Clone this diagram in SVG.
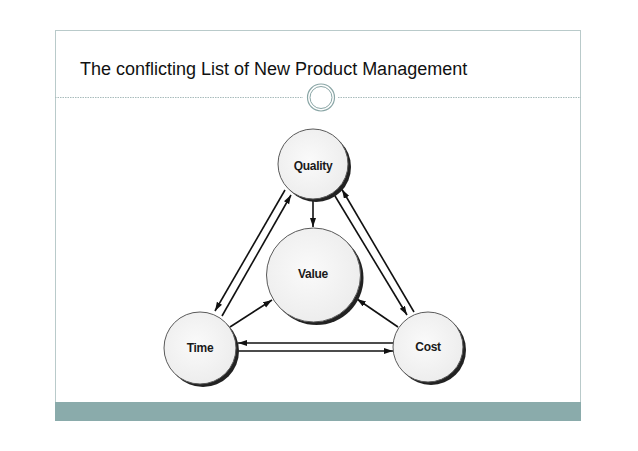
<svg xmlns="http://www.w3.org/2000/svg" width="638" height="451" viewBox="0 0 638 451">
<style>
.title{font-family:"Liberation Sans",Arial,sans-serif;font-size:18px;fill:#111}
.lbl{font-family:"Liberation Sans",Arial,sans-serif;font-size:12px;font-weight:bold;fill:#1a1a1a;text-anchor:middle;letter-spacing:-0.3px}
.node{fill:url(#nodeFill);stroke:#5a5a5a;stroke-width:1}
.shadow{fill:#222;filter:url(#blur)}
.conn line{stroke:#111;stroke-width:1.6;marker-end:url(#arr)}
</style>
<defs>
<radialGradient id="nodeFill" cx="45%" cy="45%" r="60%">
<stop offset="0" stop-color="#fafafa"/>
<stop offset="1" stop-color="#ececec"/>
</radialGradient>
<filter id="blur" x="-20%" y="-20%" width="140%" height="140%"><feGaussianBlur stdDeviation="0.6"/></filter>
<marker id="arr" markerUnits="userSpaceOnUse" markerWidth="10" markerHeight="7" refX="9" refY="3" orient="auto">
<path d="M0,0 L9,3 L0,6 z" fill="#111"/>
</marker>
</defs>
<rect width="638" height="451" fill="#fff"/>
<g id="frame">
<rect x="55.5" y="30.5" width="525" height="390" fill="none" stroke="#b9caca" stroke-width="1"/>
<rect x="55" y="402" width="526" height="19" fill="#8aabab"/>
<line x1="55" y1="97.5" x2="303" y2="97.5" stroke="#a9bcbc" stroke-width="1" stroke-dasharray="1.5,1"/>
<line x1="338" y1="97.5" x2="581" y2="97.5" stroke="#a9bcbc" stroke-width="1" stroke-dasharray="1.5,1"/>
<circle cx="321" cy="97.5" r="13.5" fill="#fff" stroke="#8aa6a6" stroke-width="1.2"/>
<circle cx="321" cy="97.5" r="11" fill="#fff" stroke="#8aa6a6" stroke-width="1"/>
</g>
<text class="title" x="80" y="75">The conflicting List of New Product Management</text>
<g id="connectors" class="conn">
<line x1="313" y1="199" x2="313" y2="227"/>
<line x1="285" y1="190" x2="215" y2="311"/>
<line x1="222" y1="316" x2="291" y2="195"/>
<line x1="414" y1="312" x2="342" y2="189.5"/>
<line x1="335" y1="196" x2="407" y2="315"/>
<line x1="393" y1="343" x2="238" y2="343"/>
<line x1="238" y1="351" x2="393" y2="351"/>
<line x1="230" y1="327" x2="272" y2="300"/>
<line x1="398" y1="327" x2="357" y2="299"/>
</g>
<g id="quality">
<circle class="shadow" cx="316" cy="167" r="35"/>
<circle class="node" cx="313" cy="164" r="35"/>
<text class="lbl" x="313" y="170">Quality</text>
</g>
<g id="value">
<circle class="shadow" cx="316.5" cy="278" r="47"/>
<circle class="node" cx="313.5" cy="275" r="47"/>
<text class="lbl" x="313" y="278">Value</text>
</g>
<g id="time">
<circle class="shadow" cx="203" cy="351" r="36"/>
<circle class="node" cx="200" cy="348" r="36"/>
<text class="lbl" x="200" y="352">Time</text>
</g>
<g id="cost">
<circle class="shadow" cx="431" cy="350" r="35"/>
<circle class="node" cx="428" cy="347" r="35"/>
<text class="lbl" x="428" y="351">Cost</text>
</g>
</svg>
